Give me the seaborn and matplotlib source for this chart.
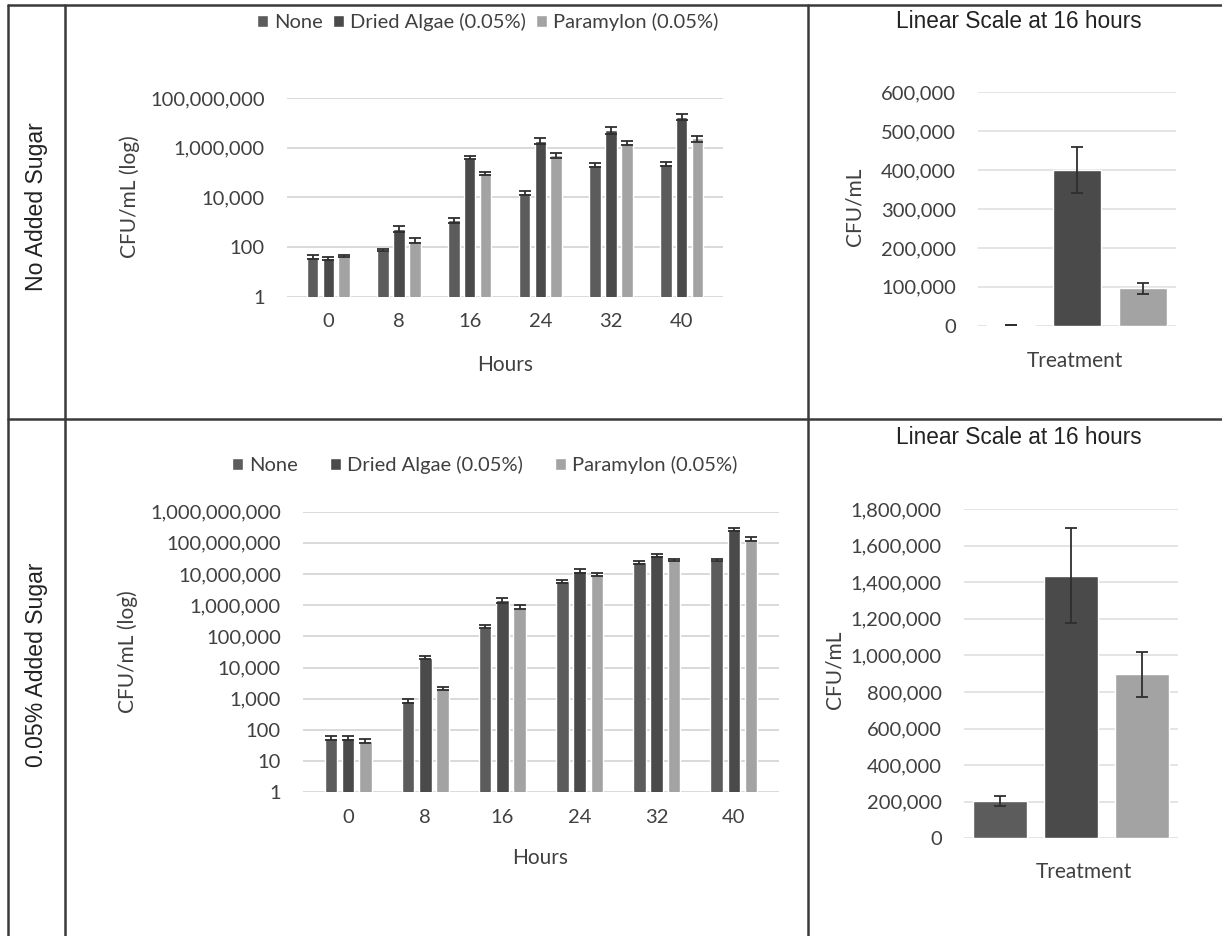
import numpy as np
import pandas as pd
import matplotlib
matplotlib.use("Agg")
import matplotlib.pyplot as plt
from matplotlib.ticker import FixedLocator, FuncFormatter, NullLocator
from matplotlib.lines import Line2D
import seaborn as sns

# ---- data -------------------------------------------------------------
hours = [0, 8, 16, 24, 32, 40]
treatments = ["None", "Dried Algae (0.05%)", "Paramylon (0.05%)"]

# CFU/mL, no added sugar
none_plain = [40, 76, 1240, 15000, 204000, 218000]
algae_plain = [35, 540, 400000, 1900000, 5200000, 18000000]
param_plain = [44, 180, 96000, 515000, 1600000, 2400000]
none_plain_err = [6, 10, 300, 3000, 30000, 40000]
algae_plain_err = [6, 150, 60000, 500000, 1500000, 5000000]
param_plain_err = [4, 40, 15000, 120000, 300000, 600000]

# CFU/mL, 0.05% added sugar
none_sugar = [56, 850, 204000, 5900000, 23500000, 28000000]
algae_sugar = [56, 20700, 1435000, 12400000, 40000000, 270000000]
param_sugar = [44, 2150, 896000, 9700000, 28000000, 132000000]
none_sugar_err = [8, 100, 25000, 600000, 2000000, 3000000]
algae_sugar_err = [8, 2500, 260000, 1500000, 4000000, 30000000]
param_sugar_err = [6, 300, 125000, 1000000, 3000000, 15000000]

row_labels = ["No Added Sugar", "0.05% Added Sugar"]
linear_title = "Linear Scale at 16 hours"
linear_hour = 16

log_ticks_plain = [1, 100, 10000, 1000000, 100000000]
log_ticks_sugar = [1, 10, 100, 1000, 10000, 100000, 1000000, 10000000,
                   100000000, 1000000000]
lin_ticks_plain = [0, 100000, 200000, 300000, 400000, 500000, 600000]
lin_ticks_sugar = [0, 200000, 400000, 600000, 800000, 1000000, 1200000,
                   1400000, 1600000, 1800000]

colors = ["#5c5c5c", "#4a4a4a", "#a3a3a3"]
palette = dict(zip(treatments, colors))

# ---- style ------------------------------------------------------------
sns.set_style("white")
plt.rcParams["font.family"] = ["Lato", "DejaVu Sans"]
TXT = "#404040"
GRID = "#d9d9d9"
W, H = 1222, 936

fig = plt.figure(figsize=(W / 100, H / 100), dpi=100)


def rect(left, right, top, bottom):
    return [left / W, 1 - bottom / H, (right - left) / W, (bottom - top) / H]


def ftext(x, y, s, color=TXT, **kw):
    fig.text(x / W, 1 - y / H, s, ha="center", va="center", color=color, **kw)


def long_frame(series):
    rows = []
    for name, vals in zip(treatments, series):
        for h, v in zip(hours, vals):
            rows.append({"Hours": h, "Treatment": name, "CFU": v})
    return pd.DataFrame(rows)


comma = FuncFormatter(lambda v, p: f"{v:,.0f}")


def style_axes(ax, ticks):
    for s in ax.spines.values():
        s.set_visible(False)
    ax.yaxis.set_major_locator(FixedLocator(ticks))
    ax.yaxis.set_minor_locator(NullLocator())
    ax.yaxis.set_major_formatter(comma)
    ax.set_ylim(ticks[0], ticks[-1])
    ax.grid(axis="y", color=GRID, lw=1.4, zorder=0)
    ax.grid(axis="x", visible=False)
    ax.set_axisbelow(True)
    ax.tick_params(axis="both", length=0, colors=TXT, labelsize=14.5)
    ax.tick_params(axis="y", pad=16)
    ax.tick_params(axis="x", pad=12)
    ax.set_xlabel("")
    ax.set_ylabel("")


def add_errors(ax, series, errs):
    for cont, vals, ee in zip(ax.containers, series, errs):
        xs = [p.get_x() + p.get_width() / 2 for p in cont.patches]
        ax.errorbar(xs, vals, yerr=ee, fmt="none", ecolor="#2e2e2e",
                    elinewidth=1.3, capsize=4, capthick=1.3, zorder=5)


def log_panel(box, series, errs, ticks, legend_xy, colspace):
    ax = fig.add_axes(rect(*box))
    df = long_frame(series)
    sns.barplot(data=df, x="Hours", y="CFU", hue="Treatment",
                hue_order=treatments, palette=palette, width=0.67, gap=0.27,
                errorbar=None, saturation=1, ax=ax, zorder=3)
    ax.set_yscale("log")
    add_errors(ax, series, errs)
    style_axes(ax, ticks)
    sns.move_legend(ax, "center", bbox_to_anchor=legend_xy, ncol=3,
                    frameon=False, title=None, fontsize=14.5,
                    handlelength=0.55, handleheight=0.55, handletextpad=0.3,
                    columnspacing=colspace, labelcolor=TXT)
    return ax


def linear_panel(box, series, errs, ticks, width):
    ax = fig.add_axes(rect(*box))
    idx = hours.index(linear_hour)
    vals = [s[idx] for s in series]
    ee = [e[idx] for e in errs]
    df = pd.DataFrame({"Treatment": treatments, "CFU": vals})
    sns.barplot(data=df, x="Treatment", y="CFU", hue="Treatment",
                hue_order=treatments, order=treatments, palette=palette,
                width=width, errorbar=None, saturation=1, legend=False,
                ax=ax, zorder=3)
    for cont, v, e in zip(ax.containers, vals, ee):
        p = cont.patches[0]
        ax.errorbar([p.get_x() + p.get_width() / 2], [v], yerr=[e],
                    fmt="none", ecolor="#2e2e2e", elinewidth=1.3,
                    capsize=4, capthick=1.3, zorder=5)
    style_axes(ax, ticks)
    ax.grid(axis="y", color="#e4e4e4", lw=1.4, zorder=0)
    ax.set_xticks([])
    ax.set_xlim(-0.5, 2.5)
    return ax


plain_series = [none_plain, algae_plain, param_plain]
plain_errs = [none_plain_err, algae_plain_err, param_plain_err]
sugar_series = [none_sugar, algae_sugar, param_sugar]
sugar_errs = [none_sugar_err, algae_sugar_err, param_sugar_err]

# ---- panels -----------------------------------------------------------
log_panel((287, 723, 98.3, 296.5), plain_series, plain_errs,
          log_ticks_plain, (0.461, 1.385), 0.5)
linear_panel((978, 1176, 92.3, 325.7), plain_series, plain_errs,
             lin_ticks_plain, 0.73)
log_panel((303, 779, 511.5, 792.3), sugar_series, sugar_errs,
          log_ticks_sugar, (0.382, 1.166), 1.6)
linear_panel((964, 1178, 509, 838.3), sugar_series, sugar_errs,
             lin_ticks_sugar, 0.76)

# ---- axis texts -------------------------------------------------------
ftext(130, 197, "CFU/mL (log)", rotation=90, fontsize=15)
ftext(505, 365, "Hours", fontsize=15)
ftext(128, 652, "CFU/mL (log)", rotation=90, fontsize=15)
ftext(540, 858, "Hours", fontsize=15)
ftext(855, 207, "CFU/mL", rotation=90, fontsize=15)
ftext(1075, 361, "Treatment", fontsize=15)
ftext(835, 670, "CFU/mL", rotation=90, fontsize=15)
ftext(1084, 872, "Treatment", fontsize=15)

arial = ["Liberation Sans", "DejaVu Sans"]
ftext(1019, 21, linear_title, fontsize=16.3, family=arial, color="#222222")
ftext(1019, 437, linear_title, fontsize=16.3, family=arial, color="#222222")
ftext(37, 207, row_labels[0], rotation=90, fontsize=16.6, family=arial,
      color="#222222")
ftext(37, 665, row_labels[1], rotation=90, fontsize=16.6, family=arial,
      color="#222222")

# ---- table frame ------------------------------------------------------
frame_kw = dict(color="#3a3a3a", lw=1.8, transform=fig.transFigure)
for x in (8, 65, 808):
    fig.add_artist(Line2D([x / W, x / W], [1 - 5 / H, 0], **frame_kw))
for y in (5, 419):
    fig.add_artist(Line2D([8 / W, 1], [1 - y / H, 1 - y / H], **frame_kw))

fig.savefig("out.png", dpi=100)
